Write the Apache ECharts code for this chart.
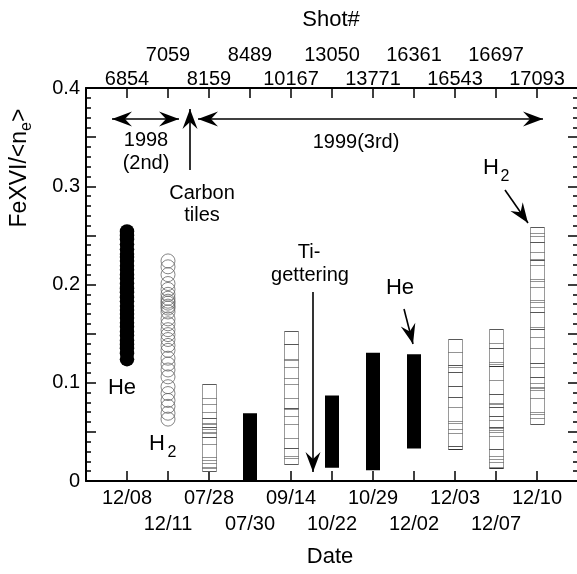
<!DOCTYPE html>
<html><head><meta charset="utf-8">
<script src="https://cdn.jsdelivr.net/npm/echarts@6/dist/echarts.min.js"></script>
<style>html,body{margin:0;padding:0;background:#fff}#c{width:577px;height:574px}</style>
</head><body><div id="c"></div>
<script>
// ---------- data ----------
const dates = ['12/08','12/11','07/28','07/30','09/14','10/22','10/29','12/02','12/03','12/07','12/10'];
const shots = ['6854','7059','8159','8489','10167','13050','13771','16361','16543','16697','17093'];
const yTicks = [0, 0.1, 0.2, 0.3, 0.4];

// 12/08 He (filled circles)
const heFilled = [0.254,0.250,0.246,0.241,0.236,0.231,0.228,0.224,0.219,0.215,0.210,0.206,0.201,0.196,0.192,0.187,0.183,0.178,0.174,0.170,0.166,0.161,0.157,0.152,0.148,0.143,0.139,0.135,0.130,0.124];
// 12/11 H2 (open circles)
const h2Open = [0.224,0.218,0.210,0.201,0.195,0.190,0.186,0.183,0.181,0.178,0.176,0.172,0.165,0.160,0.154,0.149,0.144,0.138,0.133,0.125,0.119,0.113,0.106,0.096,0.089,0.082,0.076,0.069,0.063];
// hatched columns (each line = one shot, repeated values = overlapping shots)
const h0728 = [0.0984,0.0842,0.0781,0.0706,0.0645,0.0645,0.0594,0.0580,0.0546,0.0546,0.0526,0.0502,0.0485,0.0445,0.0445,0.0377,0.0241,0.0214,0.0187,0.0146,0.0136,0.0102];
const h0914 = [0.1527,0.1391,0.1391,0.1242,0.1232,0.1163,0.1045,0.0984,0.0842,0.0746,0.0746,0.0733,0.0665,0.0577,0.0435,0.0333,0.0333,0.0254,0.0237,0.0173];
const h1203 = [0.1445,0.1310,0.1181,0.1181,0.1157,0.1106,0.1106,0.0964,0.0964,0.0852,0.0852,0.0750,0.0611,0.0594,0.0526,0.0492,0.0356,0.0356,0.0329,0.0329];
const h1207 = [0.1544,0.1401,0.1350,0.1350,0.1208,0.1191,0.1174,0.1174,0.1174,0.1028,0.0885,0.0885,0.0797,0.0781,0.0750,0.0750,0.0662,0.0662,0.0621,0.0553,0.0553,0.0536,0.0519,0.0499,0.0458,0.0326,0.0326,0.0254,0.0221,0.0196,0.0146,0.0129,0.0129];
const h1210 = [0.2582,0.2521,0.2497,0.2429,0.2429,0.2334,0.2260,0.2249,0.2249,0.2198,0.2053,0.2039,0.1978,0.1842,0.1819,0.1768,0.1723,0.1723,0.1571,0.1550,0.1550,0.1462,0.1350,0.1204,0.1204,0.1157,0.1062,0.1062,0.0994,0.0960,0.0943,0.0926,0.0842,0.0706,0.0682,0.0638,0.0580];
// solid black ranges [low, high]
const b0730 = [0.001, 0.069];
const b1022 = [0.0135, 0.087];
const b1029 = [0.011, 0.1306];
const b1202 = [0.033, 0.129];

// ---------- build ----------
const pos = d => dates.indexOf(d) + 1;
const FONT = '"Liberation Sans", Arial, Helvetica, sans-serif';
const hatched = [['07/28', h0728], ['09/14', h0914], ['12/03', h1203], ['12/07', h1207], ['12/10', h1210]];
const hatchLines = [];
const hatchBoxes = [];
hatched.forEach(([d, arr]) => {
  arr.forEach(v => hatchLines.push([pos(d), v]));
  hatchBoxes.push([pos(d), Math.min(...arr), Math.max(...arr)]);
});
const bars = [['07/30', b0730], ['10/22', b1022], ['10/29', b1029], ['12/02', b1202]].map(([d, r]) => [pos(d), r[0], r[1]]);

const chart = echarts.init(document.getElementById('c'), null, {renderer: 'canvas'});

const tickStyle = {color: '#000', width: 1.5};
function xAxisBase(position, formatter, labelOpts) {
  return {
    type: 'value', position, min: 0, max: dates.length + 1, interval: 1,
    axisLine: {show: true, onZero: false, lineStyle: {color: '#000', width: 2}},
    axisTick: {show: true, inside: true, length: 10, lineStyle: tickStyle},
    splitLine: {show: false},
    axisLabel: Object.assign({formatter, color: '#000', fontFamily: FONT, fontSize: 20, lineHeight: 24,
      showMinLabel: true, showMaxLabel: true}, labelOpts)
  };
}
function yAxisBase(position, showLabel) {
  return {
    type: 'value', position, min: 0, max: 0.4, interval: 0.05,
    axisLine: {show: true, onZero: false, lineStyle: {color: '#000', width: 2}},
    axisTick: {show: true, inside: true, length: 10, lineStyle: tickStyle},
    minorTick: {show: true, splitNumber: 5, length: 5, lineStyle: tickStyle},
    splitLine: {show: false}, minorSplitLine: {show: false},
    axisLabel: {show: showLabel, color: '#000', fontFamily: FONT, fontSize: 20, margin: 6,
      formatter: v => {
        const k = Math.round(v * 100);
        if (k % 10 !== 0) return '';
        const t = yTicks.find(y => Math.round(y * 100) === k);
        return t === 0 ? '0' : t.toFixed(1);
      }}
  };
}

// ---------- annotations ----------
const g = [];
function head(tx, ty, fx, fy) {
  const dx = tx - fx, dy = ty - fy, len = Math.hypot(dx, dy);
  const ux = dx / len, uy = dy / len, nx = -uy, ny = ux;
  const L = 20, W = 7.5, N = 13;
  g.push({type: 'polygon', shape: {points: [
    [tx, ty],
    [tx - ux * L + nx * W, ty - uy * L + ny * W],
    [tx - ux * N, ty - uy * N],
    [tx - ux * L - nx * W, ty - uy * L - ny * W]
  ]}, style: {fill: '#000'}, z: 100});
}
function arrow(x1, y1, x2, y2, both) {
  g.push({type: 'line', shape: {x1, y1, x2, y2}, style: {stroke: '#000', lineWidth: 1.6}, z: 100});
  head(x2, y2, x1, y1);
  if (both) head(x1, y1, x2, y2);
}
function txt(s, x, y, size, align) {
  g.push({type: 'text', x, y, z: 100, style: {text: s, fill: '#000', fontFamily: FONT, fontSize: size,
    align: align || 'center', verticalAlign: 'middle'}});
}
arrow(112, 119, 179, 119, true);
arrow(190, 170, 190, 109, false);
arrow(198, 119, 543, 119, true);
arrow(313, 292, 313, 472, false);
arrow(404, 309, 413, 344, false);
arrow(505, 190, 528, 223, false);
txt('1998', 146, 140, 20);
txt('(2nd)', 146, 163, 20);
txt('Carbon', 202, 193, 20);
txt('tiles', 202, 215, 20);
txt('1999(3rd)', 356, 142, 20);
txt('Ti-', 309, 252, 20);
txt('gettering', 310, 275, 20);
txt('He', 400, 288, 22);
txt('He', 122, 388, 22);
txt('H', 157, 444, 22);
txt('2', 172, 453, 16);
txt('H', 491, 168, 22);
txt('2', 505, 177, 16);
txt('Shot#', 331, 20, 22);
txt('Date', 330, 557, 22);

// y-axis title with subscript, rotated
(function () {
  const F = 23, S = 16;
  const ctx = document.createElement('canvas').getContext('2d');
  ctx.font = F + 'px ' + FONT;
  const w1 = ctx.measureText('FeXVI/<n').width;
  const w3 = ctx.measureText('>').width;
  ctx.font = S + 'px ' + FONT;
  const w2 = ctx.measureText('e').width;
  const T = w1 + w2 + w3;
  const cy = 168, cx = 20;
  g.push({type: 'group', x: cx, y: cy + T / 2, rotation: Math.PI / 2, z: 100, children: [
    {type: 'text', x: 0, y: 0, style: {text: 'FeXVI/<n', fill: '#000', fontFamily: FONT, fontSize: F, align: 'left', verticalAlign: 'middle'}},
    {type: 'text', x: w1, y: 7, style: {text: 'e', fill: '#000', fontFamily: FONT, fontSize: S, align: 'left', verticalAlign: 'middle'}},
    {type: 'text', x: w1 + w2, y: 0, style: {text: '>', fill: '#000', fontFamily: FONT, fontSize: F, align: 'left', verticalAlign: 'middle'}}
  ]});
})();

chart.setOption({
  animation: false,
  backgroundColor: '#fff',
  grid: {left: 86, top: 88, width: 492, height: 393, containLabel: false, outerBoundsMode: 'none'},
  xAxis: [
    xAxisBase('bottom', v => {
      const i = Math.round(v) - 1;
      if (i < 0 || i >= dates.length) return '';
      return i % 2 === 0 ? dates[i] : '\n' + dates[i];
    }, {margin: 4, lineHeight: 26, verticalAlign: 'top'}),
    xAxisBase('top', v => {
      const i = Math.round(v) - 1;
      if (i < 0 || i >= shots.length) return '';
      return i % 2 === 0 ? shots[i] : shots[i] + '\n';
    }, {margin: -3, verticalAlign: 'bottom'})
  ],
  yAxis: [yAxisBase('left', true), yAxisBase('right', false)],
  graphic: g,
  series: [
    {type: 'custom', name: 'boxes', z: 2, encode: {x: 0, y: [1, 2]}, data: hatchBoxes,
      renderItem: (p, api) => {
        const lo = api.coord([api.value(0), api.value(1)]);
        const hi = api.coord([api.value(0), api.value(2)]);
        const x = Math.round(lo[0] - 7) + 0.5;
        const yT = Math.round(hi[1]) + 0.5, yB = Math.round(lo[1]) + 0.5;
        return {type: 'rect', shape: {x, y: yT, width: 14, height: yB - yT},
          style: {fill: '#fff', stroke: '#9a9a9a', lineWidth: 1}};
      }},
    {type: 'custom', name: 'lines', z: 3, encode: {x: 0, y: 1}, data: hatchLines,
      renderItem: (p, api) => {
        const c = api.coord([api.value(0), api.value(1)]);
        const y = Math.round(c[1]) + 0.5;
        const x0 = Math.round(c[0] - 7) + 0.5;
        return {type: 'line', shape: {x1: x0, y1: y, x2: x0 + 14, y2: y},
          style: {stroke: 'rgba(0,0,0,0.42)', lineWidth: 1}};
      }},
    {type: 'custom', name: 'bars', z: 3, encode: {x: 0, y: [1, 2]}, data: bars,
      renderItem: (p, api) => {
        const lo = api.coord([api.value(0), api.value(1)]);
        const hi = api.coord([api.value(0), api.value(2)]);
        return {type: 'rect', shape: {x: lo[0] - 7, y: hi[1], width: 14, height: lo[1] - hi[1]},
          style: {fill: '#000'}};
      }},
    {type: 'scatter', name: 'He', z: 3, symbol: 'circle', symbolSize: 14.5,
      data: heFilled.map(v => [pos('12/08'), v]),
      itemStyle: {color: '#000', opacity: 1}},
    {type: 'scatter', name: 'H2', z: 3, symbol: 'circle', symbolSize: 14,
      data: h2Open.map(v => [pos('12/11'), v]),
      itemStyle: {color: 'rgba(0,0,0,0)', borderColor: '#666', borderWidth: 0.8, opacity: 1}}
  ]
});
</script></body></html>
